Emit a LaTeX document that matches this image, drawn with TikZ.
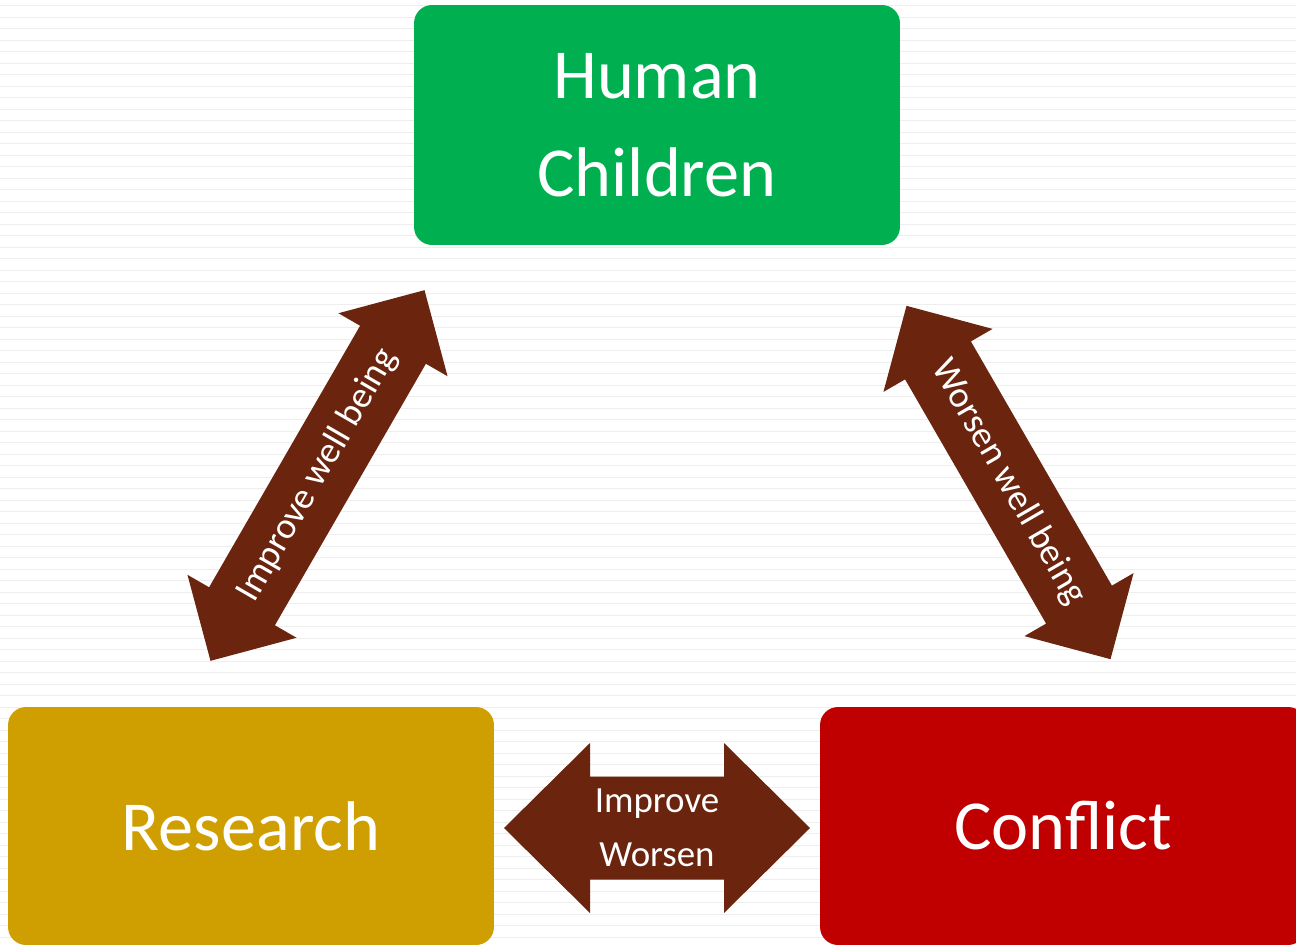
\documentclass[tikz,border=0pt]{standalone}
\usepackage{fontspec}
\setmainfont{Carlito}
\usepackage{xcolor}
\usepackage{tikz}
\definecolor{humangreen}{RGB}{0, 176, 80}
\definecolor{researchgold}{RGB}{207, 158, 0}
\definecolor{conflictred}{RGB}{192, 0, 0}
\definecolor{arrowbrown}{RGB}{107, 36, 14}
\definecolor{rulegray}{RGB}{238, 238, 238}

\tikzset{
  topicbox/.style={rectangle, rounded corners=0.36cm, minimum width=9.72cm, minimum height=4.76cm, text=white, align=center, font=\fontsize{40}{56}\selectfont},
  arrowlabel/.style={text=white, align=center, font=\fontsize{21}{31}\selectfont},
  ruleline/.style={draw=rulegray, line width=0.6pt}
}

\begin{document}
\begin{tikzpicture}[x=0.02cm, y=-0.02cm]
                    \useasboundingbox (0,0) rectangle (1296,947);
                    \clip (0,0) rectangle (1296,947);
                    \fill[white] (0,0) rectangle (1296,947);
                    \foreach \k in {0,...,81}
                        \draw[ruleline] (0,{5.7+11.5*\k}) -- (1296,{5.7+11.5*\k});

                    \node[topicbox, fill=humangreen, minimum height=4.8cm] (human) at (657,125) {Human\\Children};
                    \node[topicbox, fill=researchgold] (research) at (251,826) {Research};
                    \node[topicbox, fill=conflictred] (conflict) at (1063,826) {Conflict};

                    % improve well being
                    \coordinate (leftmid) at (317.5,475.5);
                    \begin{scope}[shift={(leftmid)}, rotate=60]
                        \fill[arrowbrown] (-214,0) -- (-151,63) -- (-151,38) -- (151,38) -- (151,63) -- (214,0)
                            -- (151,-63) -- (151,-38) -- (-151,-38) -- (-151,-63) -- cycle;
                        \node[arrowlabel, rotate=60] (improvewell) at (0,0) {Improve well being};
                    \end{scope}

                    % worsen well being
                    \coordinate (rightmid) at (1008.5,482.5);
                    \begin{scope}[shift={(rightmid)}, rotate=-60]
                        \fill[arrowbrown] (-204,0) -- (-141,63) -- (-141,38) -- (141,38) -- (141,63) -- (204,0)
                            -- (141,-63) -- (141,-38) -- (-141,-38) -- (-141,-63) -- cycle;
                        \node[arrowlabel, rotate=-60] (worsenwell) at (0,0) {Worsen well being};
                    \end{scope}

                    % research <-> conflict
                    \coordinate (bottommid) at (657,828);
                    \begin{scope}[shift={(bottommid)}]
                        \fill[arrowbrown] (-153,0) -- (-67,85) -- (-67,51.5) -- (67,51.5) -- (67,85) -- (153,0)
                            -- (67,-85) -- (67,-51.5) -- (-67,-51.5) -- (-67,-85) -- cycle;
                        \node[arrowlabel] (improveworsen) at (0,0) {Improve\\Worsen};
                    \end{scope}
                \end{tikzpicture}
\end{document}
